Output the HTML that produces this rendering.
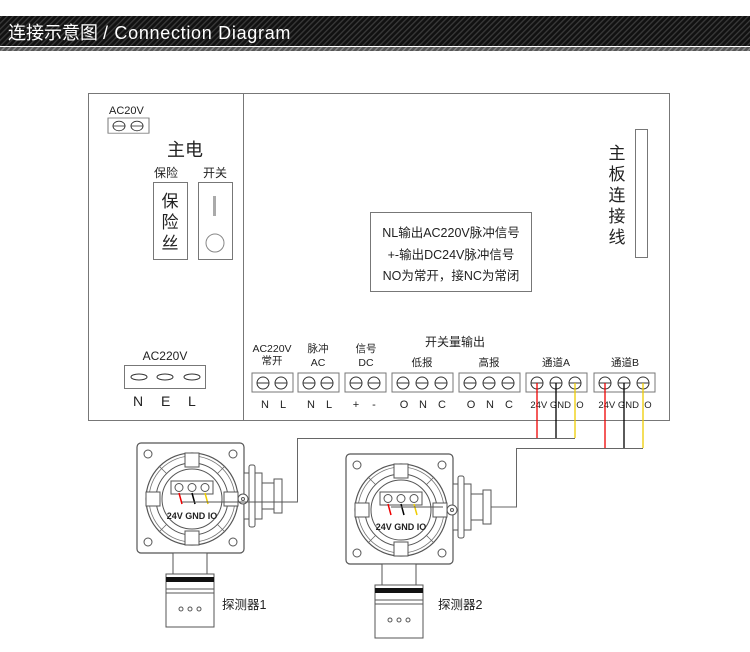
<!DOCTYPE html>
<html><head><meta charset="utf-8"><style>
body{margin:0;background:#fff;width:750px;height:647px;overflow:hidden}
svg text{font-family:"Liberation Sans","Noto Sans CJK SC",sans-serif;fill:#222}
</style></head><body>
<svg width="750" height="647" viewBox="0 0 750 647" xmlns="http://www.w3.org/2000/svg">
<defs>
<pattern id="st" width="4" height="4" patternUnits="userSpaceOnUse" patternTransform="rotate(45)">
<rect width="4" height="4" fill="#111"/><rect width="1.3" height="4" fill="#3a3a3a"/></pattern>
<pattern id="st2" width="4" height="4" patternUnits="userSpaceOnUse" patternTransform="rotate(45)">
<rect width="4" height="4" fill="#555"/><rect width="1.5" height="4" fill="#888"/></pattern>
<g id="det">
 <rect x="0" y="0" width="107" height="110" rx="4" fill="#fff" stroke="#555" stroke-width="1.2"/>
 <circle cx="11" cy="11" r="4" fill="none" stroke="#555"/><circle cx="96" cy="11" r="4" fill="none" stroke="#555"/>
 <circle cx="11" cy="99" r="4" fill="none" stroke="#555"/><circle cx="96" cy="99" r="4" fill="none" stroke="#555"/>
 <rect x="107" y="30" width="18" height="46" fill="#fff" stroke="#555"/>
 <rect x="112" y="22" width="6" height="62" rx="2" fill="#fff" stroke="#555"/>
 <rect x="125" y="40" width="12" height="26" fill="#fff" stroke="#555"/>
 <rect x="137" y="36" width="8" height="34" fill="#fff" stroke="#555"/>
 <circle cx="106" cy="56" r="5" fill="#fff" stroke="#555"/><circle cx="106" cy="56" r="1.5" fill="none" stroke="#555"/>
 <circle cx="55" cy="56" r="46" fill="#fff" stroke="#555" stroke-width="1.2"/>
 <circle cx="55" cy="56" r="43" fill="none" stroke="#777" stroke-width="0.8"/>
 <circle cx="55" cy="56" r="36" fill="none" stroke="#555"/>
 <g stroke="#555" fill="#fff">
  <rect x="48" y="10" width="14" height="14"/><rect x="48" y="88" width="14" height="14"/>
  <rect x="9" y="49" width="14" height="14"/><rect x="87" y="49" width="14" height="14"/>
 </g>
 <g stroke="#666" stroke-width="0.8">
  <line x1="22" y1="23" x2="30" y2="31"/><line x1="88" y1="23" x2="80" y2="31"/>
  <line x1="22" y1="89" x2="30" y2="81"/><line x1="88" y1="89" x2="80" y2="81"/>
 </g>
 <circle cx="55" cy="56" r="30" fill="#fff" stroke="#555"/>
 <rect x="34" y="38" width="42" height="13" fill="#fff" stroke="#555"/>
 <circle cx="42" cy="44.5" r="4" fill="#fff" stroke="#555"/><circle cx="55" cy="44.5" r="4" fill="#fff" stroke="#555"/><circle cx="68" cy="44.5" r="4" fill="#fff" stroke="#555"/>
 <line x1="42" y1="50" x2="45" y2="61" stroke="#e00" stroke-width="1.5"/>
 <line x1="55" y1="50" x2="58" y2="61" stroke="#000" stroke-width="1.5"/>
 <line x1="68" y1="50" x2="71" y2="61" stroke="#ec0" stroke-width="1.5"/>
 <text x="55" y="76" font-size="9" text-anchor="middle" font-weight="600">24V GND IO</text>
 <rect x="36" y="110" width="34" height="22" fill="#fff" stroke="#555"/>
 <rect x="29" y="131" width="48" height="53" fill="#fff" stroke="#555"/>
 <rect x="29" y="134" width="48" height="5" fill="#111"/>
 <line x1="29" y1="146" x2="77" y2="146" stroke="#555"/>
 <line x1="29" y1="150" x2="77" y2="150" stroke="#555"/>
 <circle cx="44" cy="166" r="2" fill="none" stroke="#555"/><circle cx="53" cy="166" r="2" fill="none" stroke="#555"/><circle cx="62" cy="166" r="2" fill="none" stroke="#555"/>
</g>
<g id="t2"><rect x="0" y="0" width="41" height="19" fill="#fff" stroke="#777"/>
<circle cx="11" cy="10" r="6" fill="none" stroke="#333"/><line x1="5" y1="10" x2="17" y2="10" stroke="#333"/>
<circle cx="29" cy="10" r="6" fill="none" stroke="#333"/><line x1="23" y1="10" x2="35" y2="10" stroke="#333"/></g>
<g id="t3"><rect x="0" y="0" width="61" height="19" fill="#fff" stroke="#777"/>
<circle cx="11" cy="10" r="6" fill="none" stroke="#333"/><line x1="5" y1="10" x2="17" y2="10" stroke="#333"/>
<circle cx="30" cy="10" r="6" fill="none" stroke="#333"/><line x1="24" y1="10" x2="36" y2="10" stroke="#333"/>
<circle cx="49" cy="10" r="6" fill="none" stroke="#333"/><line x1="43" y1="10" x2="55" y2="10" stroke="#333"/></g>
</defs>
<rect x="0" y="16" width="750" height="30" fill="url(#st)"/>
<rect x="0" y="47" width="750" height="4" fill="url(#st2)"/>
<text x="8" y="39" font-size="18" style="fill:#fff">连接示意图 <tspan letter-spacing="0.7">/ Connection Diagram</tspan></text>
<rect x="88.5" y="93.5" width="581" height="327" fill="#fff" stroke="#777"/>
<line x1="243.5" y1="93" x2="243.5" y2="421" stroke="#777"/>
<text x="109" y="114" font-size="11">AC20V</text>
<g transform="translate(108,118) scale(1,0.8)"><use href="#t2"/></g>
<text x="167" y="156" font-size="18">主电</text>
<text x="154" y="177" font-size="12">保险</text><text x="203" y="177" font-size="12">开关</text>
<rect x="153.5" y="182.5" width="34" height="77" fill="#fff" stroke="#777"/>
<text x="170" y="207" font-size="17" text-anchor="middle">保</text>
<text x="170" y="228" font-size="17" text-anchor="middle">险</text>
<text x="170" y="249" font-size="17" text-anchor="middle">丝</text>
<rect x="198.5" y="182.5" width="34" height="77" fill="#fff" stroke="#777"/>
<rect x="213" y="196" width="3" height="20" fill="#aaa"/>
<circle cx="215" cy="243" r="9" fill="#fff" stroke="#888"/>
<text x="165" y="360" font-size="12" text-anchor="middle">AC220V</text>
<rect x="124.5" y="365.5" width="81" height="23" fill="#fff" stroke="#777"/>
<ellipse cx="139" cy="377" rx="8" ry="3" fill="none" stroke="#333"/>
<ellipse cx="165" cy="377" rx="8" ry="3" fill="none" stroke="#333"/>
<ellipse cx="192" cy="377" rx="8" ry="3" fill="none" stroke="#333"/>
<text x="133" y="406" font-size="14">N</text><text x="161" y="406" font-size="14">E</text><text x="188" y="406" font-size="14">L</text>
<rect x="370.5" y="212.5" width="161" height="79" fill="#fff" stroke="#777"/>
<text x="451" y="237" font-size="12.5" text-anchor="middle">NL输出AC220V脉冲信号</text>
<text x="451" y="259" font-size="12.5" text-anchor="middle">+-输出DC24V脉冲信号</text>
<text x="451" y="280" font-size="12.5" text-anchor="middle">NO为常开，接NC为常闭</text>
<text x="617" y="159" font-size="17" text-anchor="middle">主</text>
<text x="617" y="180" font-size="17" text-anchor="middle">板</text>
<text x="617" y="201" font-size="17" text-anchor="middle">连</text>
<text x="617" y="222" font-size="17" text-anchor="middle">接</text>
<text x="617" y="243" font-size="17" text-anchor="middle">线</text>
<rect x="635.5" y="129.5" width="12" height="128" fill="#fff" stroke="#777"/>
<g font-size="10.5" text-anchor="middle">
<text x="272" y="352">AC220V</text><text x="272" y="364">常开</text>
<text x="318" y="352">脉冲</text><text x="318" y="366">AC</text>
<text x="366" y="352">信号</text><text x="366" y="366">DC</text>
<text x="455" y="346" font-size="12">开关量输出</text>
<text x="422" y="366">低报</text><text x="489" y="366">高报</text>
<text x="556" y="366">通道A</text><text x="625" y="366">通道B</text>
</g>
<use href="#t2" x="252" y="373"/><use href="#t2" x="298" y="373"/><use href="#t2" x="345" y="373"/>
<use href="#t3" x="392" y="373"/><use href="#t3" x="459" y="373"/><use href="#t3" x="526" y="373"/><use href="#t3" x="594" y="373"/>
<g font-size="11" text-anchor="middle">
<text x="265" y="408">N</text><text x="283" y="408">L</text>
<text x="311" y="408">N</text><text x="329" y="408">L</text>
<text x="356" y="408">+</text><text x="374" y="408">-</text>
<text x="404" y="408">O</text><text x="423" y="408">N</text><text x="442" y="408">C</text>
<text x="471" y="408">O</text><text x="490" y="408">N</text><text x="509" y="408">C</text>
</g>
<text x="557" y="408" font-size="9.5" text-anchor="middle">24V GND IO</text>
<text x="625" y="408" font-size="9.5" text-anchor="middle">24V GND IO</text>
<polyline points="182,502 297.5,502 297.5,438.5 575,438.5" fill="none" stroke="#666"/>
<polyline points="443,507 516.5,507 516.5,448.5 643,448.5" fill="none" stroke="#666"/>
<line x1="537" y1="383" x2="537" y2="438" stroke="#e00" stroke-width="1.3"/>
<line x1="556" y1="383" x2="556" y2="438" stroke="#000" stroke-width="1.3"/>
<line x1="575" y1="383" x2="575" y2="438" stroke="#ec0" stroke-width="1.3"/>
<line x1="605" y1="383" x2="605" y2="448" stroke="#e00" stroke-width="1.3"/>
<line x1="624" y1="383" x2="624" y2="448" stroke="#000" stroke-width="1.3"/>
<line x1="643" y1="383" x2="643" y2="448" stroke="#ec0" stroke-width="1.3"/>
<use href="#det" x="137" y="443"/>
<use href="#det" x="346" y="454"/>
<line x1="182" y1="502" x2="297" y2="502" stroke="#555"/>
<line x1="391" y1="507" x2="443" y2="507" stroke="#555"/>
<text x="222" y="609" font-size="12.5">探测器1</text>
<text x="438" y="609" font-size="12.5">探测器2</text>
</svg>
</body></html>
